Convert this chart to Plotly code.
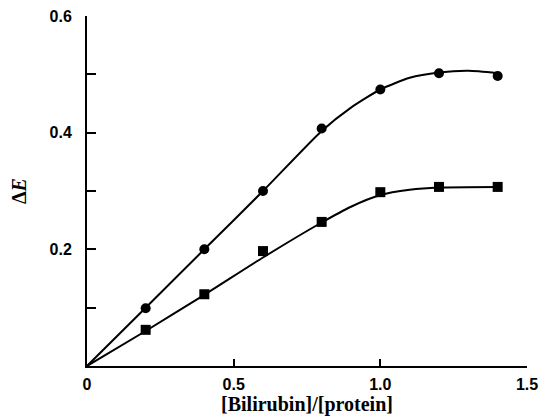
import plotly.graph_objects as go

# Measured points
x_pts = [0.2, 0.4, 0.6, 0.8, 1.0, 1.2, 1.4]
circle_y = [0.099, 0.200, 0.300, 0.407, 0.474, 0.502, 0.497]
square_y = [0.062, 0.123, 0.197, 0.247, 0.298, 0.307, 0.307]

# Fitted curves
circle_curve_x = [0.0, 0.2, 0.4, 0.6, 0.8, 0.9, 1.0, 1.1, 1.2, 1.3, 1.4]
circle_curve_y = [0.0, 0.100, 0.200, 0.300, 0.403, 0.443, 0.474, 0.494, 0.503, 0.506, 0.502]
square_curve_x = [0.0, 0.2, 0.4, 0.6, 0.8, 0.9, 1.0, 1.1, 1.2, 1.4]
square_curve_y = [0.0, 0.060, 0.122, 0.186, 0.246, 0.273, 0.293, 0.302, 0.306, 0.307]

x_tickvals = [0, 0.5, 1.0, 1.5]
x_ticktext = ["0", "0.5", "1.0", "1.5"]
y_tickvals = [0.1, 0.2, 0.3, 0.4, 0.5, 0.6]
y_ticktext = ["", "0.2", "", "0.4", "", "0.6"]

fig = go.Figure()
fig.add_trace(go.Scatter(x=circle_curve_x, y=circle_curve_y, mode="lines",
                         line=dict(color="black", width=2, shape="spline", smoothing=0.6),
                         hoverinfo="skip"))
fig.add_trace(go.Scatter(x=square_curve_x, y=square_curve_y, mode="lines",
                         line=dict(color="black", width=2, shape="spline", smoothing=0.6),
                         hoverinfo="skip"))
fig.add_trace(go.Scatter(x=x_pts, y=circle_y, mode="markers",
                         marker=dict(symbol="circle", size=10, color="black")))
fig.add_trace(go.Scatter(x=x_pts, y=square_y, mode="markers",
                         marker=dict(symbol="square", size=10, color="black")))

tickfont = dict(family="Liberation Sans", size=16, color="black", weight="bold")
titlefont = dict(family="Liberation Serif", size=20, color="black", weight="bold")

fig.update_layout(
    width=544, height=420,
    margin=dict(l=87, r=17, t=16, b=54),
    paper_bgcolor="white", plot_bgcolor="white",
    showlegend=False,
    xaxis=dict(range=[0, 1.5], tickvals=x_tickvals, ticktext=x_ticktext,
               showline=True, linecolor="black", linewidth=2,
               ticks="inside", ticklen=7, tickwidth=2, tickcolor="black",
               showgrid=False, zeroline=False, tickfont=tickfont,
               ticklabelstandoff=3, automargin=False,
               title=dict(text="[Bilirubin]/[protein]", font=titlefont, standoff=2)),
    yaxis=dict(range=[0, 0.6], tickvals=y_tickvals, ticktext=y_ticktext,
               showline=True, linecolor="black", linewidth=2,
               ticks="inside", ticklen=9, tickwidth=2, tickcolor="black",
               showgrid=False, zeroline=False, tickfont=tickfont,
               ticklabelstandoff=10, automargin=False,
               title=dict(text="Δ<i>E</i>", font=titlefont, standoff=18)),
)

fig.write_html("out.html", config={"displayModeBar": False},
               post_script="document.body.style.margin='0';")
